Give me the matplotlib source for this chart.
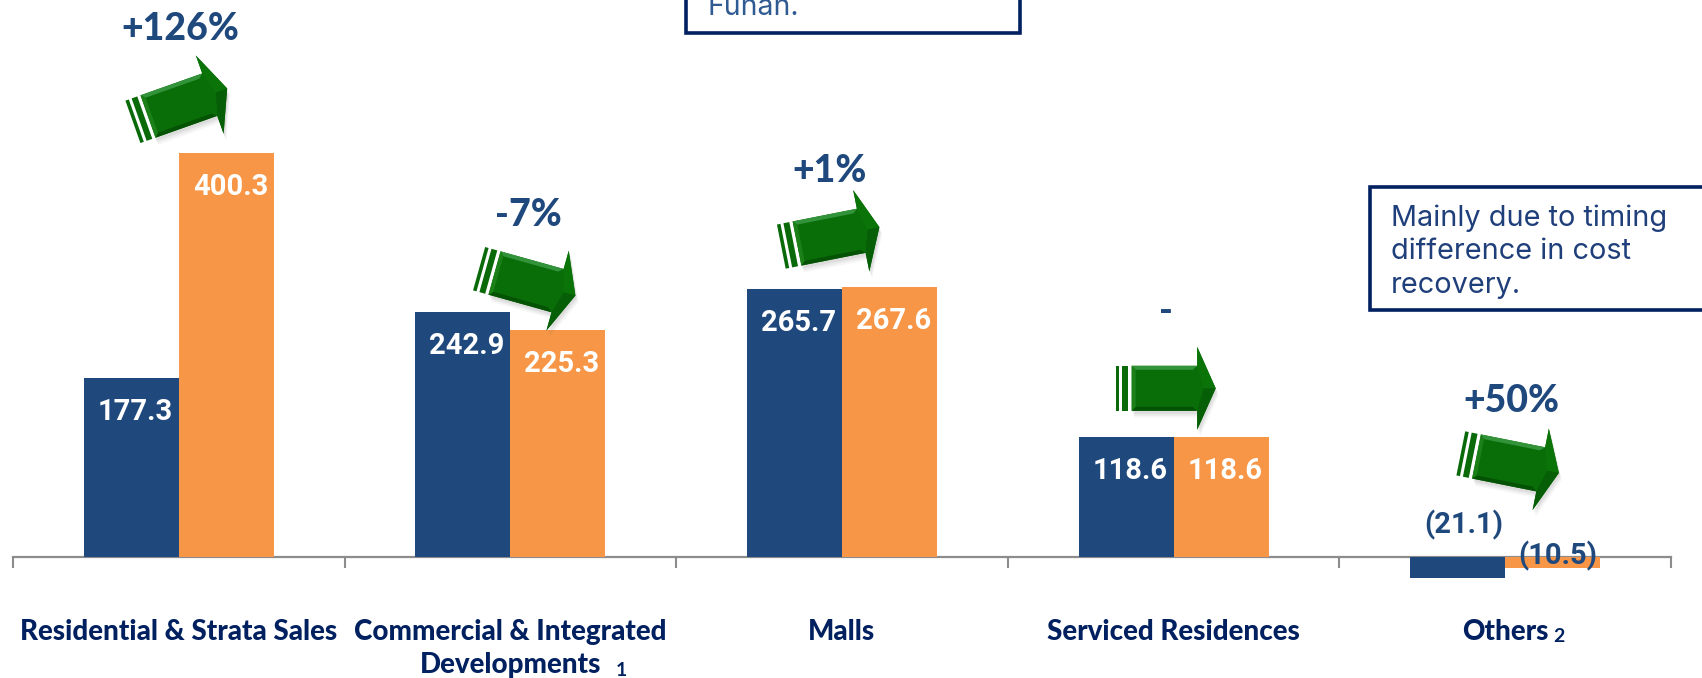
import numpy as np
import matplotlib
matplotlib.use("Agg")
import matplotlib.pyplot as plt
from matplotlib.patches import Polygon, Rectangle

categories = ['Residential & Strata Sales', 'Commercial & Integrated\nDevelopments', 'Malls',
              'Serviced Residences', 'Others']
serie_azul = [177.3, 242.9, 265.7, 118.6, -21.1]
serie_laranja = [400.3, 225.3, 267.6, 118.6, -10.5]
rotulos_azul = ['177.3', '242.9', '265.7', '118.6', '(21.1)']
rotulos_laranja = ['400.3', '225.3', '267.6', '118.6', '(10.5)']
variacoes = ['+126%', '-7%', '+1%', '-', '+50%']

AZUL = '#1f497d'
LARANJA = '#f79646'
MARINHO = '#002060'

W, H = 1702, 678
fig = plt.figure(figsize=(W / 100, H / 100), dpi=100)

# eixo principal: 331.6 px por categoria, 1.009 px por unidade
px_cat = 331.6
px_val = 1.009
x0 = 13.0
y0 = 557.0
ax = fig.add_axes([0, 0, 1, 1])
ax.set_xlim(-0.5 - x0 / px_cat, -0.5 + (W - x0) / px_cat)
ax.set_ylim(-(H - y0) / px_val, y0 / px_val)
ax.patch.set_visible(False)

largura = 95 / px_cat
xs = np.arange(len(categories))
ax.bar(xs - largura / 2, serie_azul, largura, color=AZUL, zorder=3)
ax.bar(xs + largura / 2, serie_laranja, largura, color=LARANJA, zorder=3)

for s in ['top', 'left', 'right']:
    ax.spines[s].set_visible(False)
ax.spines['bottom'].set_position(('data', 0))
ax.spines['bottom'].set_color('#8c8c8c')
ax.spines['bottom'].set_linewidth(1.6)
ax.spines['bottom'].set_bounds(-0.5, 4.5)
ax.yaxis.set_visible(False)
ax.set_xticks(np.arange(-0.5, 5.0, 1.0))
ax.set_xticklabels([])
ax.tick_params(axis='x', which='major', length=8, width=1.5, color='#8c8c8c', direction='out')
ax.set_xticks(xs, minor=True)
ax.set_xticklabels(categories, minor=True, fontsize=20, fontweight=900, family='Lato',
                   color=MARINHO, linespacing=1.32)
ax.tick_params(axis='x', which='minor', length=0, pad=44.5)

for i in xs:
    for val, txt, sinal in ((serie_azul[i], rotulos_azul[i], -1), (serie_laranja[i], rotulos_laranja[i], 1)):
        x = i + sinal * largura / 2
        if val > 0:
            ax.annotate(txt, (x, val), xytext=(4, -34), textcoords='offset pixels', ha='center', va='center',
                        color='white', fontsize=21, fontweight='bold', family='Roboto', zorder=5)

# rotulos negativos ficam acima do eixo
ax.annotate(rotulos_azul[4], (4 - largura / 2, 0), xytext=(6, 32), textcoords='offset pixels', ha='center',
            va='center', color=AZUL, fontsize=21, fontweight='bold', family='Roboto', zorder=5)
ax.annotate(rotulos_laranja[4], (4 + largura / 2, 0), xytext=(5, 1), textcoords='offset pixels', ha='center',
            va='center', color=AZUL, fontsize=21, fontweight='bold', family='Roboto', zorder=5)

# camada em pixels para setas, caixas e textos soltos
ov = fig.add_axes([0, 0, 1, 1])
ov.set_xlim(0, W)
ov.set_ylim(H, 0)
ov.axis('off')


def seta(ox, oy, ang):
    a = np.radians(ang)
    rot = np.array([[np.cos(a), np.sin(a)], [-np.sin(a), np.cos(a)]])

    def pts(lista):
        return (rot @ np.array(lista, float).T).T + [ox, oy]

    corpo = [(0, -22.5), (65.5, -22.5), (65.5, -41.5), (84, 0), (65.5, 41.5), (65.5, 22.5), (0, 22.5)]
    for d, al in ((7, 0.05), (5, 0.07), (3, 0.09)):
        ov.add_patch(Polygon(pts(corpo) + [d * 0.4, d], color='#555555', alpha=al, lw=0, zorder=6))
    for a0, a1 in ((-16, -12.4), (-9.4, -3.4)):
        r = [(a0, -22.5), (a1, -22.5), (a1, 22.5), (a0, 22.5)]
        ov.add_patch(Polygon(pts(r), color='#0a6a0a', lw=0, zorder=7))
    ov.add_patch(Polygon(pts(corpo), color='#0a6e08', lw=0, zorder=7))
    # chanfros
    ov.add_patch(Polygon(pts([(0, -22.5), (65.5, -22.5), (61, -18.5), (4, -18.5)]), color='#33933a', lw=0, zorder=8))
    ov.add_patch(Polygon(pts([(0, 22.5), (65.5, 22.5), (61, 18.5), (4, 18.5)]), color='#045204', lw=0, zorder=8))
    ov.add_patch(Polygon(pts([(0, -22.5), (4, -18.5), (4, 18.5), (0, 22.5)]), color='#1c8018', lw=0, zorder=8))
    ov.add_patch(Polygon(pts([(65.5, -41.5), (84, 0), (72, 0), (65.5, -22.5)]), color='#0b7409', lw=0, zorder=8))
    ov.add_patch(Polygon(pts([(65.5, 41.5), (84, 0), (72, 0), (65.5, 22.5)]), color='#065e06', lw=0, zorder=8))


seta(148, 116.5, 19.5)
seta(494.5, 273, -15.6)
seta(797, 243.5, 11.2)
seta(1131.7, 388.3, 0)
seta(1476.5, 456.5, -11.3)

for txt, x, y in zip(variacoes, [180, 528, 830, 1166, 1511], [29, 215, 171, 311, 401.5]):
    ov.text(x, y, txt, ha='center', va='center', color=AZUL, fontsize=27, fontweight=900, family='Lato', zorder=9)

# indices das notas
ov.text(621, 671, '1', ha='center', va='center', color=MARINHO, fontsize=14, fontweight='bold', family='Lato')
ov.text(1559, 636, '2', ha='center', va='center', color=MARINHO, fontsize=14, fontweight='bold', family='Lato')

# caixas de comentario
ov.add_patch(Rectangle((686, -20), 334, 53, fc='white', ec=MARINHO, lw=2.6, zorder=2))
ov.text(707, 15, 'Funan.', ha='left', va='baseline', color='#2f5b92', fontsize=20.5, family='Inter', zorder=3)

ov.add_patch(Rectangle((1370, 187), 360, 123, fc='white', ec=MARINHO, lw=2.6, zorder=2))
for linha, y in zip(['Mainly due to timing', 'difference in cost', 'recovery.'], [226, 259, 293]):
    ov.text(1391, y, linha, ha='left', va='baseline', color='#1f3f7a', fontsize=20.8, family='Inter', zorder=3)

fig.savefig('out.png', dpi=100)
